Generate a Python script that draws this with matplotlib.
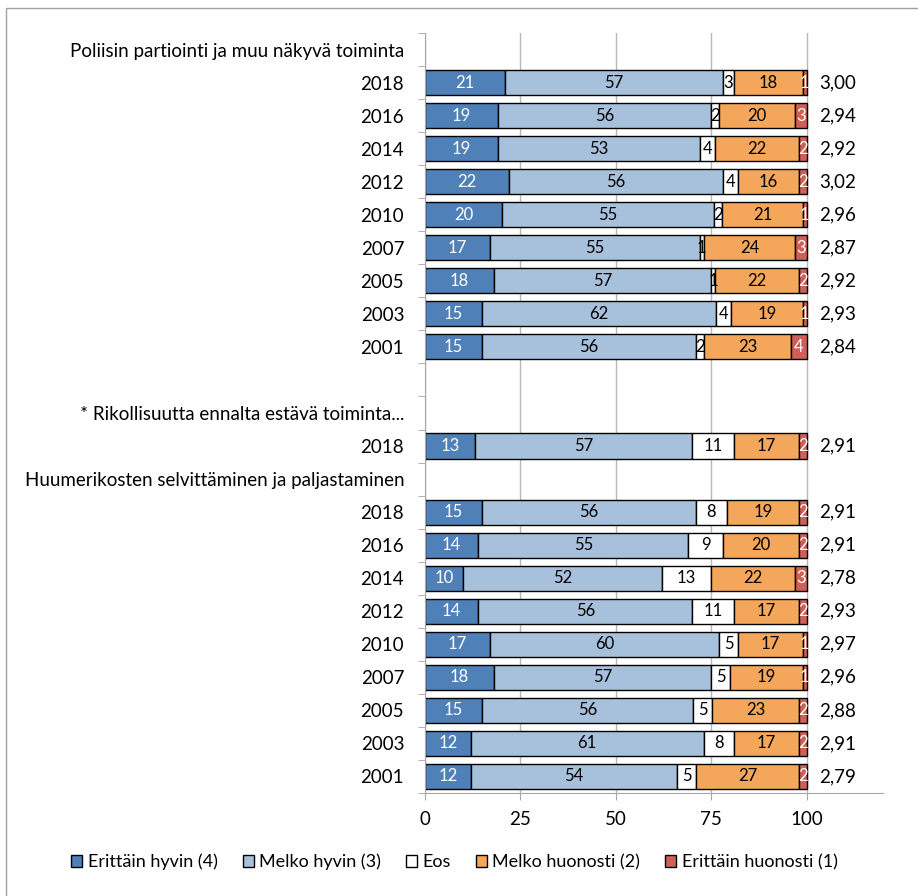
import numpy as np
import matplotlib.pyplot as plt
from matplotlib.patches import Rectangle

plt.rcParams['font.family'] = ['Lato', 'DejaVu Sans']

series_names = ['Erittäin hyvin (4)', 'Melko hyvin (3)', 'Eos',
                'Melko huonosti (2)', 'Erittäin huonosti (1)']
series_colors = ['#4f81b8', '#a7c0dc', '#ffffff', '#f4a65a', '#cf6058']
label_colors = ['white', 'black', 'black', 'black', 'white']

# Poliisin partiointi ja muu näkyvä toiminta
pat_title = 'Poliisin partiointi ja muu näkyvä toiminta'
pat_years = ['2018', '2016', '2014', '2012', '2010', '2007', '2005', '2003', '2001']
pat_erit_hyvin = [21, 19, 19, 22, 20, 17, 18, 15, 15]
pat_melko_hyvin = [57, 56, 53, 56, 55, 55, 57, 62, 56]
pat_eos = [3, 2, 4, 4, 2, 1, 1, 4, 2]
pat_melko_huon = [18, 20, 22, 16, 21, 24, 22, 19, 23]
pat_erit_huon = [1, 3, 2, 2, 1, 3, 2, 1, 4]
pat_mean = ['3,00', '2,94', '2,92', '3,02', '2,96', '2,87', '2,92', '2,93', '2,84']

# * Rikollisuutta ennalta estävä toiminta
rik_title = '* Rikollisuutta ennalta estävä toiminta...'
rik_years = ['2018']
rik_erit_hyvin = [13]
rik_melko_hyvin = [57]
rik_eos = [11]
rik_melko_huon = [17]
rik_erit_huon = [2]
rik_mean = ['2,91']

# Huumerikosten selvittäminen ja paljastaminen
huu_title = 'Huumerikosten selvittäminen ja paljastaminen'
huu_years = ['2018', '2016', '2014', '2012', '2010', '2007', '2005', '2003', '2001']
huu_erit_hyvin = [15, 14, 10, 14, 17, 18, 15, 12, 12]
huu_melko_hyvin = [56, 55, 52, 56, 60, 57, 56, 61, 54]
huu_eos = [8, 9, 13, 11, 5, 5, 5, 8, 5]
huu_melko_huon = [19, 20, 22, 17, 17, 19, 23, 17, 27]
huu_erit_huon = [2, 2, 3, 2, 1, 1, 2, 2, 2]
huu_mean = ['2,91', '2,91', '2,78', '2,93', '2,97', '2,96', '2,88', '2,91', '2,79']

# build rows: (label, values or None, mean)
rows = [(pat_title, None, None)]
for i, y in enumerate(pat_years):
    rows.append((y, [pat_erit_hyvin[i], pat_melko_hyvin[i], pat_eos[i],
                     pat_melko_huon[i], pat_erit_huon[i]], pat_mean[i]))
rows.append(('', None, None))
rows.append((rik_title, None, None))
for i, y in enumerate(rik_years):
    rows.append((y, [rik_erit_hyvin[i], rik_melko_hyvin[i], rik_eos[i],
                     rik_melko_huon[i], rik_erit_huon[i]], rik_mean[i]))
rows.append((huu_title, None, None))
for i, y in enumerate(huu_years):
    rows.append((y, [huu_erit_hyvin[i], huu_melko_hyvin[i], huu_eos[i],
                     huu_melko_huon[i], huu_erit_huon[i]], huu_mean[i]))

fig = plt.figure(figsize=(9.18, 8.96), dpi=100)
ax = fig.add_axes([425/918, 1 - 793/896, (883 - 425)/918, (793 - 33)/896])

# outer chart frame
fig.patches.append(Rectangle((6/918, -0.1), 1.2, 0.1 + 1 - 8/896,
                             transform=fig.transFigure, fill=False,
                             edgecolor='#a0a0a0', lw=1))

grey = '#a6a6a6'
handles = []
for r, (lab, vals, mean) in enumerate(rows):
    if vals is None:
        continue
    vals = np.array(vals, dtype=float)
    widths = vals / vals.sum() * 100
    left = 0
    for k in range(5):
        b = ax.barh(r, widths[k], left=left, height=0.76, color=series_colors[k],
                    edgecolor='black', lw=1)
        if r == 1:
            handles.append(b)
        ax.text(left + widths[k]/2, r, str(int(vals[k])), ha='center', va='center',
                fontsize=12, color=label_colors[k])
        left += widths[k]
    ax.text(103.3, r, mean, ha='left', va='center', fontsize=13.5)

ax.set_xlim(0, 120)
ax.set_ylim(len(rows) - 0.5, -0.5)
ax.set_xticks([0, 25, 50, 75, 100])
ax.set_yticks(range(len(rows)))
ax.set_yticklabels([r[0] for r in rows])
ax.set_yticks(np.arange(-0.5, len(rows)), minor=True)
ax.tick_params(axis='y', which='major', length=0, labelsize=13.5, pad=15)
ax.tick_params(axis='y', which='minor', length=5, color=grey, direction='out')
ax.tick_params(axis='x', length=5, color=grey, labelsize=13.5, pad=8)
ax.grid(axis='x', color='#b8b8b8', lw=1)
ax.set_axisbelow(True)
for s in ['top', 'right']:
    ax.spines[s].set_visible(False)
for s in ['left', 'bottom']:
    ax.spines[s].set_color(grey)

fig.legend(handles=handles, labels=series_names, loc='center', ncol=5,
           bbox_to_anchor=(0.495, 0.038), frameon=False, fontsize=13,
           handlelength=0.6, handleheight=0.6, handletextpad=0.3,
           columnspacing=1.4)

fig.savefig('out.png', dpi=100)
